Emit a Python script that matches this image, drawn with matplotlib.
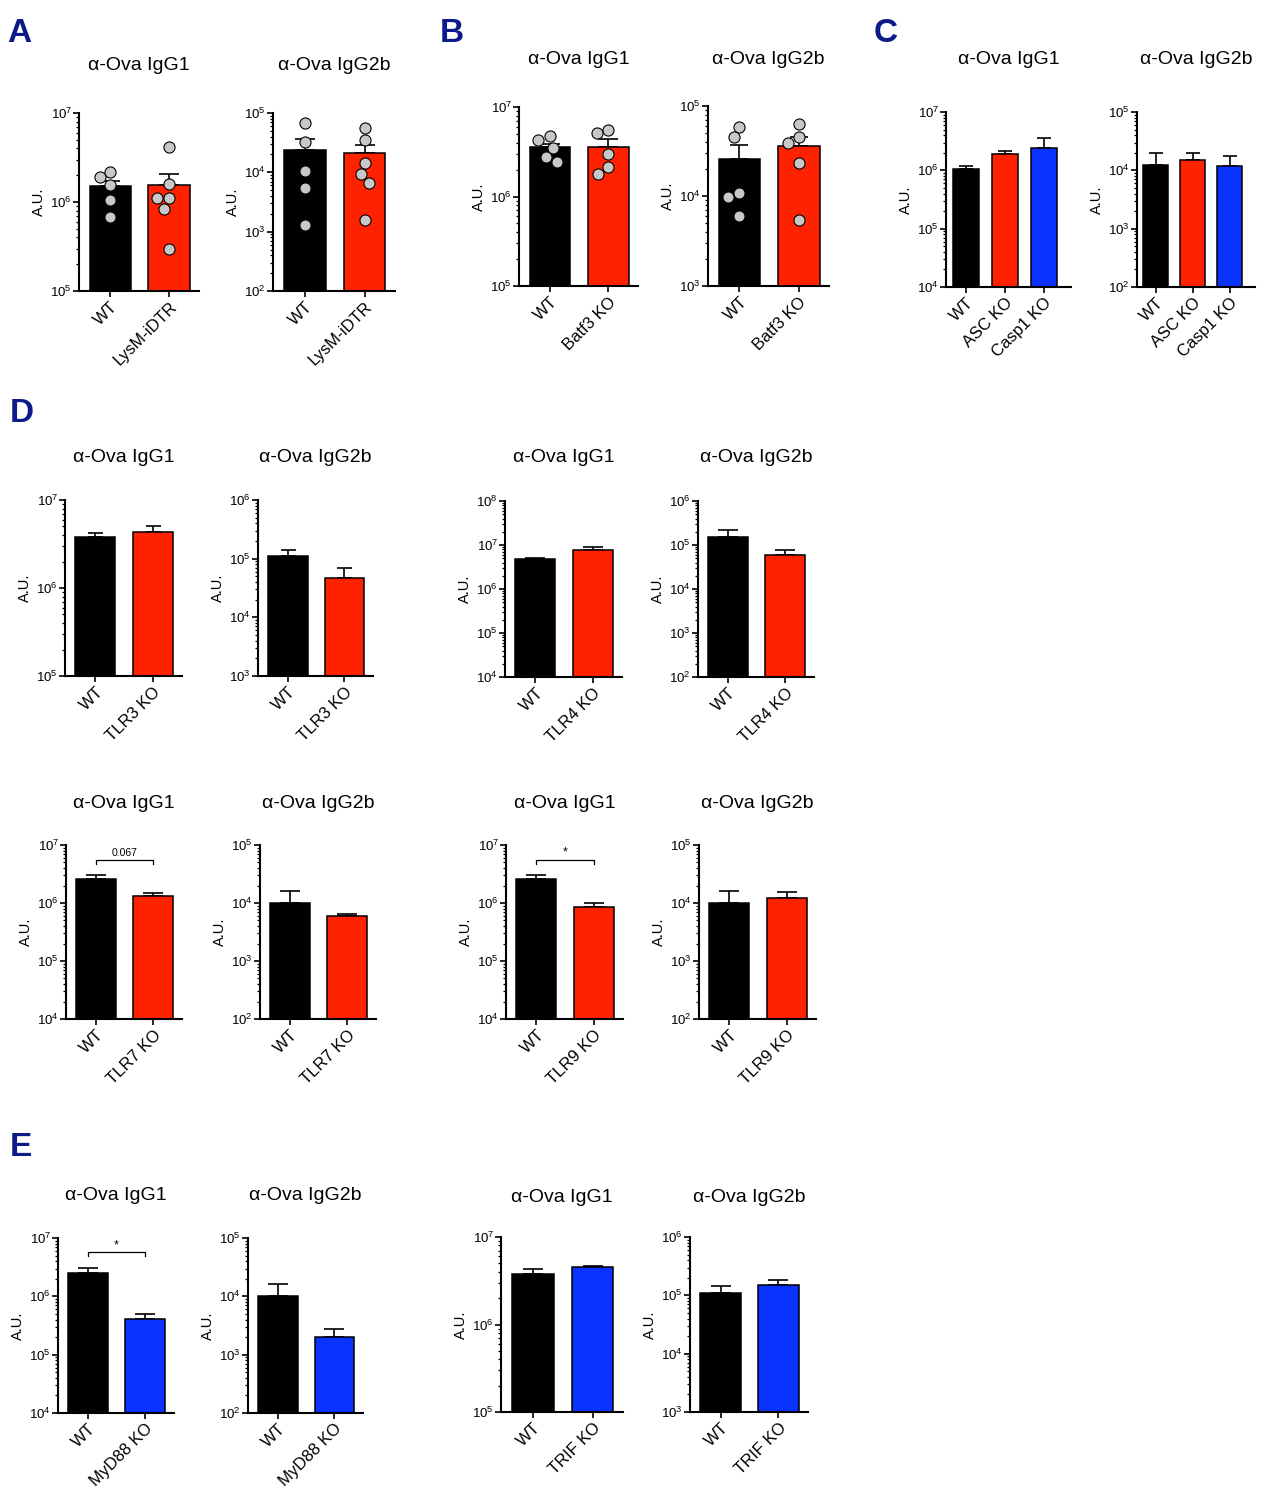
import numpy as np
import matplotlib
matplotlib.use('Agg')
import matplotlib.pyplot as plt
from matplotlib.ticker import LogLocator, NullFormatter

plt.rcParams['font.family'] = ['Liberation Sans', 'DejaVu Sans']
plt.rcParams['mathtext.default'] = 'regular'

# ---------------- data ----------------
title_g1 = 'α-Ova IgG1'
title_g2b = 'α-Ova IgG2b'

# Panel A
a_cats = ['WT', 'LysM-iDTR']
a_igg1_mean = [1.5e6, 1.55e6]
a_igg1_sem = [2.0e5, 5.0e5]
a_igg1_pts = [[2.2e6, 1.9e6, 1.55e6, 1.05e6, 6.8e5],
              [4.2e6, 1.6e6, 1.12e6, 1.12e6, 8.4e5, 3.0e5]]
a_igg2b_mean = [2.35e4, 2.1e4]
a_igg2b_sem = [1.25e4, 8.0e3]
a_igg2b_pts = [[6.9e4, 3.2e4, 1.05e4, 5.4e3, 1.3e3],
               [5.6e4, 3.5e4, 1.45e4, 9.3e3, 6.7e3, 1.6e3]]

# Panel B
b_cats = ['WT', 'Batf3 KO']
b_igg1_mean = [3.55e6, 3.55e6]
b_igg1_sem = [3.5e5, 8.0e5]
b_igg1_pts = [[4.7e6, 4.3e6, 3.5e6, 2.75e6, 2.4e6],
              [5.5e6, 5.1e6, 2.95e6, 2.15e6, 1.8e6]]
b_igg2b_mean = [2.6e4, 3.55e4]
b_igg2b_sem = [1.1e4, 9.5e3]
b_igg2b_pts = [[5.9e4, 4.5e4, 1.07e4, 9.7e3, 6.0e3],
               [6.3e4, 4.5e4, 3.9e4, 2.35e4, 5.4e3]]

# Panel C
c_cats = ['WT', 'ASC KO', 'Casp1 KO']
c_igg1_mean = [1.05e6, 1.9e6, 2.45e6]
c_igg1_sem = [1.5e5, 2.5e5, 1.1e6]
c_igg2b_mean = [1.23e4, 1.5e4, 1.2e4]
c_igg2b_sem = [7.2e3, 5.0e3, 5.5e3]

# Panel D
tlr3_cats = ['WT', 'TLR3 KO']
tlr3_igg1_mean = [3.8e6, 4.3e6]
tlr3_igg1_sem = [4.0e5, 8.0e5]
tlr3_igg2b_mean = [1.1e5, 4.7e4]
tlr3_igg2b_sem = [3.0e4, 2.1e4]

tlr4_cats = ['WT', 'TLR4 KO']
tlr4_igg1_mean = [4.9e6, 7.6e6]
tlr4_igg1_sem = [2.0e5, 1.3e6]
tlr4_igg2b_mean = [1.5e5, 5.9e4]
tlr4_igg2b_sem = [6.5e4, 2.0e4]

tlr7_cats = ['WT', 'TLR7 KO']
tlr7_igg1_mean = [2.6e6, 1.3e6]
tlr7_igg1_sem = [4.0e5, 2.0e5]
tlr7_igg1_sig = '0.067'
tlr7_igg2b_mean = [1.02e4, 5.9e3]
tlr7_igg2b_sem = [5.8e3, 6.0e2]

tlr9_cats = ['WT', 'TLR9 KO']
tlr9_igg1_mean = [2.6e6, 8.7e5]
tlr9_igg1_sem = [4.0e5, 1.5e5]
tlr9_igg1_sig = '*'
tlr9_igg2b_mean = [1.02e4, 1.23e4]
tlr9_igg2b_sem = [5.8e3, 3.2e3]

# Panel E
myd88_cats = ['WT', 'MyD88 KO']
myd88_igg1_mean = [2.5e6, 4.1e5]
myd88_igg1_sem = [6.0e5, 9.0e4]
myd88_igg1_sig = '*'
myd88_igg2b_mean = [1.0e4, 2.0e3]
myd88_igg2b_sem = [6.0e3, 8.0e2]

trif_cats = ['WT', 'TRIF KO']
trif_igg1_mean = [3.8e6, 4.5e6]
trif_igg1_sem = [5.0e5, 2.0e5]
trif_igg2b_mean = [1.1e5, 1.5e5]
trif_igg2b_sem = [3.5e4, 3.0e4]

# ---------------- style ----------------
BLACK = '#000000'
RED = '#ff2200'
BLUE = '#0b33ff'
NAVY = '#0c1a8a'
DOT = '#c8c8c8'

W, H = 1268, 1500
fig = plt.figure(figsize=(W / 100, H / 100), dpi=100)


def swarm_offsets(ax, center, values, diam):
    """Simple beeswarm in pixel space; returns x data positions."""
    x0 = ax.transData.transform((0, 1))[0]
    x1 = ax.transData.transform((1, 1))[0]
    pxu = x1 - x0
    ypx = [ax.transData.transform((0, v))[1] for v in values]
    order = np.argsort(ypx)[::-1]
    placed = []
    xs = [0.0] * len(values)
    for i in order:
        y = ypx[i]
        cands = [0.0]
        for (xj, yj) in placed:
            dy = y - yj
            if abs(dy) < diam:
                dx = np.sqrt(diam ** 2 - dy ** 2)
                cands += [xj + dx, xj - dx]
        cands.sort(key=lambda c: (abs(c), c))
        for c in cands:
            ok = all((c - xj) ** 2 + (y - yj) ** 2 >= diam ** 2 - 1e-6 for (xj, yj) in placed)
            if ok:
                break
        placed.append((c, y))
        xs[i] = center + c / pxu
    return xs


def add_panel(rect, title, title_y, cats, means, sems, colors, ylim,
              points=None, sig=None, capsize=7.0, xlim=(-0.53, 1.51), width=0.7):
    l, t, r, b = rect
    ax = fig.add_axes([l / W, 1 - b / H, (r - l) / W, (b - t) / H])
    n = len(cats)
    x = np.arange(n)
    ax.set_yscale('log')
    ax.set_ylim(*ylim)
    ax.set_xlim(*xlim)
    means = np.asarray(means, dtype=float)
    sems = np.asarray(sems, dtype=float)
    ax.errorbar(x, means, yerr=[np.zeros(n), sems], fmt='none', ecolor='black',
                elinewidth=1.2, capsize=capsize, capthick=1.2, zorder=1)
    ax.bar(x, means - ylim[0], width=width, bottom=ylim[0], color=colors,
           edgecolor='black', linewidth=1.1, zorder=2)
    if points is not None:
        for i, pts in enumerate(points):
            xs = swarm_offsets(ax, i, pts, 12.0)
            ax.scatter(xs, pts, s=64, facecolor=DOT, edgecolor='black',
                       linewidth=0.8, zorder=4, clip_on=False)
    if sig is not None:
        top = float(np.max(means + sems))
        yd = ax.transData.transform((0, top))[1] + 15.5
        inv = ax.transData.inverted()
        y_line = inv.transform((0, yd))[1]
        y_drop = inv.transform((0, yd - 4))[1]
        y_txt = inv.transform((0, yd + 4))[1]
        ax.plot([0, 0, 1, 1], [y_drop, y_line, y_line, y_drop], color='black',
                lw=0.9, zorder=5, clip_on=False)
        fs = 7.5 if sig != '*' else 9
        ax.text(0.5, y_txt, sig, ha='center', va='baseline', fontsize=fs)

    ax.yaxis.set_major_locator(LogLocator(base=10, numticks=20))
    ax.yaxis.set_minor_locator(LogLocator(base=10, subs=np.arange(2, 10), numticks=200))
    ax.yaxis.set_minor_formatter(NullFormatter())
    ax.tick_params(axis='y', which='major', length=4, width=1.2, labelsize=9.5, pad=1,
                   direction='out')
    ax.tick_params(axis='y', which='minor', length=2.2, width=0.9, direction='out')
    ax.tick_params(axis='x', length=4, width=1.2, pad=2, direction='out')
    ax.set_xticks(x)
    ax.set_xticklabels(cats, rotation=45, ha='right', rotation_mode='anchor', fontsize=12)
    for s in ['top', 'right']:
        ax.spines[s].set_visible(False)
    for s in ['left', 'bottom']:
        ax.spines[s].set_linewidth(1.5)
    ax.set_ylabel('A.U.', fontsize=10.5, labelpad=3)
    fig.text(((l + r) / 2) / W, 1 - title_y / H, title, ha='center', va='center', fontsize=14)
    return ax


def letter(x, y, s):
    fig.text(x / W, 1 - y / H, s, ha='left', va='center', fontsize=24,
             fontweight='bold', color=NAVY)


two_rb = [BLACK, RED]
two_bb = [BLACK, BLUE]

# A
letter(7, 33, 'A')
add_panel((79, 113, 199, 291), title_g1, 65, a_cats, a_igg1_mean, a_igg1_sem, two_rb,
          (1e5, 1e7), points=a_igg1_pts)
add_panel((273, 113, 395, 291), title_g2b, 65, a_cats, a_igg2b_mean, a_igg2b_sem, two_rb,
          (1e2, 1e5), points=a_igg2b_pts)
# B
letter(440, 33, 'B')
add_panel((519, 107, 638, 286), title_g1, 60, b_cats, b_igg1_mean, b_igg1_sem, two_rb,
          (1e5, 1e7), points=b_igg1_pts)
add_panel((708, 106, 829, 286), title_g2b, 60, b_cats, b_igg2b_mean, b_igg2b_sem, two_rb,
          (1e3, 1e5), points=b_igg2b_pts, capsize=6.5)
# C
three = [BLACK, RED, BLUE]
letter(874, 33, 'C')
add_panel((946, 112, 1071, 287), title_g1, 60, c_cats, c_igg1_mean, c_igg1_sem, three,
          (1e4, 1e7), capsize=5, xlim=(-0.51, 2.69), width=0.67)
add_panel((1137, 112, 1255, 287), title_g2b, 60, c_cats, c_igg2b_mean, c_igg2b_sem, three,
          (1e2, 1e5), capsize=5, xlim=(-0.51, 2.69), width=0.67)
# D
letter(10, 413, 'D')
add_panel((65, 500, 182, 676), title_g1, 457, tlr3_cats, tlr3_igg1_mean, tlr3_igg1_sem,
          two_rb, (1e5, 1e7), capsize=5.4)
add_panel((258, 500, 373, 676), title_g2b, 457, tlr3_cats, tlr3_igg2b_mean, tlr3_igg2b_sem,
          two_rb, (1e3, 1e6), capsize=5.4)
add_panel((505, 501, 622, 677), title_g1, 458, tlr4_cats, tlr4_igg1_mean, tlr4_igg1_sem,
          two_rb, (1e4, 1e8))
add_panel((698, 501, 814, 677), title_g2b, 458, tlr4_cats, tlr4_igg2b_mean, tlr4_igg2b_sem,
          two_rb, (1e2, 1e6))
add_panel((66, 845, 182, 1019), title_g1, 803, tlr7_cats, tlr7_igg1_mean, tlr7_igg1_sem,
          two_rb, (1e4, 1e7), sig=tlr7_igg1_sig)
add_panel((260, 845, 376, 1019), title_g2b, 803, tlr7_cats, tlr7_igg2b_mean, tlr7_igg2b_sem,
          two_rb, (1e2, 1e5))
add_panel((506, 845, 623, 1019), title_g1, 803, tlr9_cats, tlr9_igg1_mean, tlr9_igg1_sem,
          two_rb, (1e4, 1e7), sig=tlr9_igg1_sig)
add_panel((699, 845, 816, 1019), title_g2b, 803, tlr9_cats, tlr9_igg2b_mean, tlr9_igg2b_sem,
          two_rb, (1e2, 1e5))
# E
letter(10, 1147, 'E')
add_panel((58, 1238, 174, 1413), title_g1, 1195, myd88_cats, myd88_igg1_mean, myd88_igg1_sem,
          two_bb, (1e4, 1e7), sig=myd88_igg1_sig)
add_panel((248, 1238, 363, 1413), title_g2b, 1195, myd88_cats, myd88_igg2b_mean,
          myd88_igg2b_sem, two_bb, (1e2, 1e5))
add_panel((501, 1237, 623, 1412), title_g1, 1197, trif_cats, trif_igg1_mean, trif_igg1_sem,
          two_bb, (1e5, 1e7))
add_panel((690, 1237, 808, 1412), title_g2b, 1197, trif_cats, trif_igg2b_mean, trif_igg2b_sem,
          two_bb, (1e3, 1e6))

fig.savefig('out.png', dpi=100, facecolor='white')
